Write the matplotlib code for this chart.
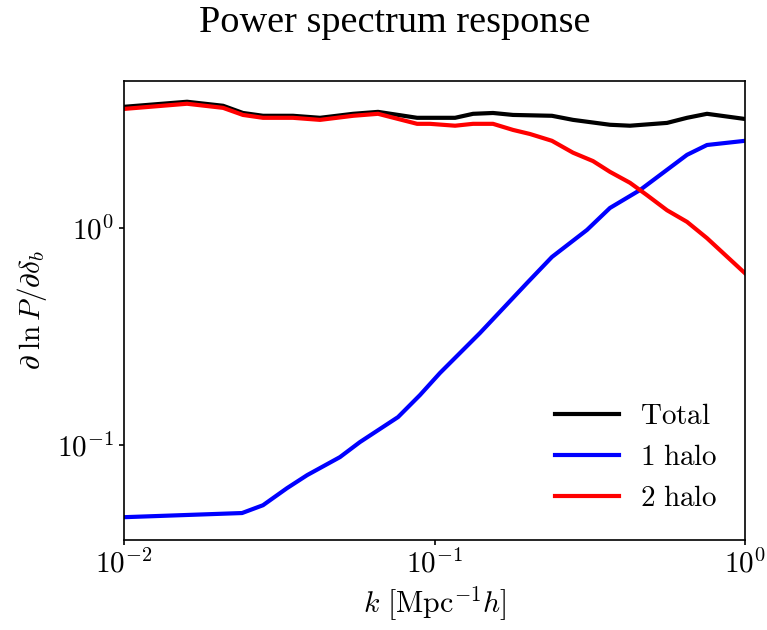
import matplotlib
matplotlib.use("Agg")
import matplotlib.pyplot as plt
from matplotlib.ticker import NullLocator, FuncFormatter
import numpy as np

# total response
k_total = [0.0100, 0.01596, 0.02085, 0.02416, 0.02803, 0.0350, 0.0428, 0.0547,
           0.0658, 0.0879, 0.1165, 0.1331, 0.1543, 0.1790, 0.2389, 0.2793,
           0.3673, 0.4262, 0.5610, 0.6505, 0.7544, 1.0]
total = [3.63, 3.83, 3.67, 3.40, 3.30, 3.30, 3.23, 3.37,
         3.44, 3.23, 3.23, 3.37, 3.40, 3.33, 3.30, 3.16,
         3.00, 2.97, 3.06, 3.23, 3.37, 3.19]

# 1-halo term
k_one = [0.0100, 0.0240, 0.02803, 0.0335, 0.0389, 0.0496, 0.0575, 0.0763,
         0.0898, 0.1041, 0.1401, 0.1986, 0.2389, 0.3098, 0.3673, 0.4590,
         0.6505, 0.7544, 1.0]
one_halo = [0.0465, 0.0486, 0.0528, 0.0633, 0.0727, 0.0880, 0.1032, 0.1346,
            0.1701, 0.2149, 0.3287, 0.559, 0.737, 0.982, 1.24, 1.50,
            2.18, 2.42, 2.53]

# 2-halo term
k_two = [0.0100, 0.01596, 0.02085, 0.02416, 0.02803, 0.0350, 0.0428, 0.0547,
         0.0658, 0.0879, 0.0967, 0.1165, 0.1331, 0.1543, 0.1790, 0.2030,
         0.2389, 0.2793, 0.3240, 0.3673, 0.4262, 0.4836, 0.5610, 0.6505,
         0.7544, 1.0]
two_halo = [3.55, 3.75, 3.59, 3.33, 3.23, 3.23, 3.16, 3.30,
            3.37, 3.03, 3.03, 2.97, 3.03, 3.03, 2.84, 2.72,
            2.53, 2.23, 2.04, 1.82, 1.62, 1.42, 1.21, 1.07,
            0.90, 0.62]

plt.rcParams.update({
    "mathtext.fontset": "cm",
    "font.family": "serif",
    "font.serif": ["Liberation Serif", "DejaVu Serif"],
})


def pow10(v, _pos):
    return r"$10^{%d}$" % int(round(np.log10(v)))


fig = plt.figure(figsize=(7.67, 6.3), dpi=100)
ax = fig.add_axes([124 / 767, 90 / 630, 621 / 767, 459.5 / 630])

lw = 3
ax.plot(k_total, total, color="black", lw=lw, label=r"$\mathrm{Total}$")
ax.plot(k_one, one_halo, color="blue", lw=lw, label=r"$\mathrm{1\ halo}$")
ax.plot(k_two, two_halo, color="red", lw=lw, label=r"$\mathrm{2\ halo}$")

ax.set_xscale("log")
ax.set_yscale("log")
ax.set_xlim(0.01, 1.0)
ax.set_ylim(0.0365, 4.8)
ax.xaxis.set_minor_locator(NullLocator())
ax.yaxis.set_minor_locator(NullLocator())
ax.set_xticks([0.01, 0.1, 1.0])
ax.set_yticks([0.1, 1.0])
ax.xaxis.set_major_formatter(FuncFormatter(pow10))
ax.yaxis.set_major_formatter(FuncFormatter(pow10))
ax.tick_params(labelsize=21, width=1.2)
for s in ax.spines.values():
    s.set_linewidth(1.2)

ax.set_xlabel(r"$k\ [\mathrm{Mpc}^{-1}h]$", fontsize=21.5, labelpad=4)
ax.set_ylabel(r"$\partial\;\ln P/\partial\delta_b$", fontsize=21, labelpad=6)

ax.legend(loc="lower right", bbox_to_anchor=(1.0, 0.0), frameon=False,
          fontsize=21, handlelength=2.2, handletextpad=0.7,
          labelspacing=0.5, borderaxespad=0.55)

fig.text(395 / 767, 1 - 6 / 630, "Power spectrum response", ha="center",
         va="top", fontsize=27.5, family="Liberation Serif")

fig.savefig("out.png", dpi=100)
